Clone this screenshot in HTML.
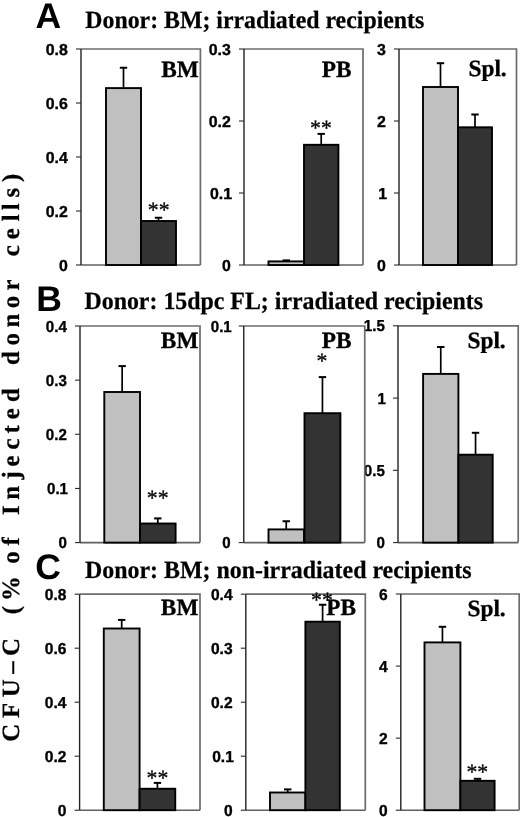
<!DOCTYPE html>
<html lang="en"><head><meta charset="utf-8"><title>CFU-C figure</title>
<style>
html,body{margin:0;padding:0;background:#fff;}
body{width:520px;height:817px;overflow:hidden;}
svg{display:block;filter:grayscale(1);}
text{text-rendering:geometricPrecision;}
.ax{font-family:"Liberation Sans", Arial, Helvetica, sans-serif;font-weight:700;font-size:15.9px;fill:#000;stroke:#000;stroke-width:0.35px;}
.lb{font-family:"Liberation Serif", "Times New Roman", Times, serif;font-weight:700;font-size:23.3px;fill:#000;stroke:#000;stroke-width:0.3px;}
.st{font-family:"Liberation Serif", "Times New Roman", Times, serif;font-weight:400;font-size:21.8px;fill:#000;stroke:#000;stroke-width:0.3px;}
.ti{font-family:"Liberation Serif", "Times New Roman", Times, serif;font-weight:700;font-size:24.8px;fill:#000;stroke:#000;stroke-width:0.25px;}
.pn{font-family:"Liberation Sans", Arial, Helvetica, sans-serif;font-weight:700;font-size:35.6px;fill:#000;}
.yt{font-family:"Liberation Serif", "Times New Roman", Times, serif;font-weight:700;font-size:24.8px;fill:#000;stroke:#000;stroke-width:0.25px;}
</style></head><body>
<svg width="520" height="817" viewBox="0 0 520 817">
<rect width="520" height="817" fill="#fff"/>
<text class="yt" transform="translate(19.1 740.6) rotate(-90)" x="-1.1 22.7 43.4 66.9 84.7 109.4 126.4 139.7 170.6 176.9 195.2 212.5 225.7 240.8 261.1 274.2 291 307.1 321.3 338.5 359.6 375.5 395.1 413 432.4 450 468.4 484.4 501.4 519.4 530.4 543.2 558.7">CFU–C (% of Injected donor cells)</text>
<g><rect x="399" y="49" width="117.5" height="216" fill="#ffffff"/>
<path d="M399 49H516.5V265" fill="none" stroke="#6c6c6c" stroke-width="1.7"/>
<path d="M399 265H516.5" fill="none" stroke="#606060" stroke-width="1.6"/>
<path d="M399 49V265" fill="none" stroke="#222" stroke-width="1.4"/>
<path d="M394 265H399" stroke="#2a2a2a" stroke-width="1.1"/>
<text class="ax" transform="translate(385.8 270.6) scale(1 1)" text-anchor="end">0</text>
<path d="M394 193H399" stroke="#2a2a2a" stroke-width="1.1"/>
<text class="ax" transform="translate(387 198.6) scale(1 1)" text-anchor="end">1</text>
<path d="M394 121H399" stroke="#2a2a2a" stroke-width="1.1"/>
<text class="ax" transform="translate(385.8 126.6) scale(1 1)" text-anchor="end">2</text>
<path d="M394 49H399" stroke="#2a2a2a" stroke-width="1.1"/>
<text class="ax" transform="translate(385.8 54.6) scale(1 1)" text-anchor="end">3</text>
<path d="M440.5 87V63.2" stroke="#000" stroke-width="1.7"/>
<path d="M436.8 63.2H444.2" stroke="#000" stroke-width="2"/>
<path d="M475 127.3V114.5" stroke="#000" stroke-width="1.7"/>
<path d="M471.3 114.5H478.7" stroke="#000" stroke-width="2"/>
<rect x="423" y="87" width="35" height="178" fill="#c0c0c0" stroke="#000" stroke-width="1.9"/>
<rect x="458" y="127.3" width="34" height="137.7" fill="#333333" stroke="#000" stroke-width="1.9"/>
<text class="lb" x="506.7" y="76.4" text-anchor="end">Spl.</text></g>
<g><rect x="244" y="49" width="119" height="216" fill="#ffffff"/>
<path d="M244 49H363V265" fill="none" stroke="#6c6c6c" stroke-width="1.7"/>
<path d="M244 265H363" fill="none" stroke="#606060" stroke-width="1.6"/>
<path d="M244 49V265" fill="none" stroke="#222" stroke-width="1.4"/>
<path d="M239 265H244" stroke="#2a2a2a" stroke-width="1.1"/>
<text class="ax" transform="translate(230.8 270.6) scale(1 1)" text-anchor="end">0</text>
<path d="M239 193H244" stroke="#2a2a2a" stroke-width="1.1"/>
<text class="ax" transform="translate(232 198.6) scale(1 1)" text-anchor="end">0.1</text>
<path d="M239 121H244" stroke="#2a2a2a" stroke-width="1.1"/>
<text class="ax" transform="translate(230.8 126.6) scale(1 1)" text-anchor="end">0.2</text>
<path d="M239 49H244" stroke="#2a2a2a" stroke-width="1.1"/>
<text class="ax" transform="translate(230.8 54.6) scale(1 1)" text-anchor="end">0.3</text>
<path d="M286.25 261.4V260.4" stroke="#000" stroke-width="1.7"/>
<path d="M282.55 260.4H289.95" stroke="#000" stroke-width="2"/>
<path d="M321.2 144.8V133.9" stroke="#000" stroke-width="1.7"/>
<path d="M317.5 133.9H324.9" stroke="#000" stroke-width="2"/>
<rect x="268.5" y="261.4" width="35.5" height="3.6" fill="#c0c0c0" stroke="#000" stroke-width="1.9"/>
<rect x="304" y="144.8" width="34.4" height="120.2" fill="#333333" stroke="#000" stroke-width="1.9"/>
<text class="st" x="321" y="135.3" text-anchor="middle">**</text>
<text class="lb" x="351.5" y="76.9" text-anchor="end">PB</text></g>
<g><rect x="81" y="49" width="119.4" height="216" fill="#ffffff"/>
<path d="M81 49H200.4V265" fill="none" stroke="#6c6c6c" stroke-width="1.7"/>
<path d="M81 265H200.4" fill="none" stroke="#606060" stroke-width="1.6"/>
<path d="M81 49V265" fill="none" stroke="#222" stroke-width="1.4"/>
<path d="M76 265H81" stroke="#2a2a2a" stroke-width="1.1"/>
<text class="ax" transform="translate(67.8 270.6) scale(1 1)" text-anchor="end">0</text>
<path d="M76 211H81" stroke="#2a2a2a" stroke-width="1.1"/>
<text class="ax" transform="translate(67.8 216.6) scale(1 1)" text-anchor="end">0.2</text>
<path d="M76 157H81" stroke="#2a2a2a" stroke-width="1.1"/>
<text class="ax" transform="translate(67.8 162.6) scale(1 1)" text-anchor="end">0.4</text>
<path d="M76 103H81" stroke="#2a2a2a" stroke-width="1.1"/>
<text class="ax" transform="translate(67.8 108.6) scale(1 1)" text-anchor="end">0.6</text>
<path d="M76 49H81" stroke="#2a2a2a" stroke-width="1.1"/>
<text class="ax" transform="translate(67.8 54.6) scale(1 1)" text-anchor="end">0.8</text>
<path d="M123.5 88.1V67.75" stroke="#000" stroke-width="1.7"/>
<path d="M119.8 67.75H127.2" stroke="#000" stroke-width="2"/>
<path d="M158.5 221V217.75" stroke="#000" stroke-width="1.7"/>
<path d="M154.8 217.75H162.2" stroke="#000" stroke-width="2"/>
<rect x="106" y="88.1" width="35" height="176.9" fill="#c0c0c0" stroke="#000" stroke-width="1.9"/>
<rect x="141" y="221" width="35" height="44" fill="#333333" stroke="#000" stroke-width="1.9"/>
<text class="st" x="158.75" y="216.6" text-anchor="middle">**</text>
<text class="lb" x="198.7" y="76.7" text-anchor="end">BM</text></g>
<g><rect x="398" y="325.8" width="120.2" height="216.8" fill="#ffffff"/>
<path d="M398 325.8H518.2V542.6" fill="none" stroke="#6c6c6c" stroke-width="1.7"/>
<path d="M398 542.6H518.2" fill="none" stroke="#606060" stroke-width="1.6"/>
<path d="M398 325.8V542.6" fill="none" stroke="#222" stroke-width="1.4"/>
<path d="M393 542.6H398" stroke="#2a2a2a" stroke-width="1.1"/>
<text class="ax" transform="translate(384.8 548.2) scale(0.95 1)" text-anchor="end">0</text>
<path d="M393 470.33H398" stroke="#2a2a2a" stroke-width="1.1"/>
<text class="ax" transform="translate(384.8 475.93) scale(0.95 1)" text-anchor="end">0.5</text>
<path d="M393 398.07H398" stroke="#2a2a2a" stroke-width="1.1"/>
<text class="ax" transform="translate(386 403.67) scale(0.95 1)" text-anchor="end">1</text>
<path d="M393 325.8H398" stroke="#2a2a2a" stroke-width="1.1"/>
<text class="ax" transform="translate(384.8 331.4) scale(0.95 1)" text-anchor="end">1.5</text>
<path d="M440.75 373.9V347" stroke="#000" stroke-width="1.7"/>
<path d="M437.05 347H444.45" stroke="#000" stroke-width="2"/>
<path d="M475.55 454.7V432.8" stroke="#000" stroke-width="1.7"/>
<path d="M471.85 432.8H479.25" stroke="#000" stroke-width="2"/>
<rect x="423.1" y="373.9" width="35.3" height="168.7" fill="#c0c0c0" stroke="#000" stroke-width="1.9"/>
<rect x="458.4" y="454.7" width="34.3" height="87.9" fill="#333333" stroke="#000" stroke-width="1.9"/>
<text class="lb" x="505.7" y="347.7" text-anchor="end">Spl.</text></g>
<g><rect x="243.75" y="326" width="121" height="216.6" fill="#ffffff"/>
<path d="M243.75 326H364.75V542.6" fill="none" stroke="#6c6c6c" stroke-width="1.7"/>
<path d="M243.75 542.6H364.75" fill="none" stroke="#606060" stroke-width="1.6"/>
<path d="M243.75 326V542.6" fill="none" stroke="#222" stroke-width="1.4"/>
<path d="M238.75 542.6H243.75" stroke="#2a2a2a" stroke-width="1.1"/>
<text class="ax" transform="translate(230.55 548.2) scale(0.95 1)" text-anchor="end">0</text>
<path d="M238.75 326H243.75" stroke="#2a2a2a" stroke-width="1.1"/>
<text class="ax" transform="translate(231.75 331.6) scale(0.95 1)" text-anchor="end">0.1</text>
<path d="M286.25 529.4V521.25" stroke="#000" stroke-width="1.7"/>
<path d="M282.55 521.25H289.95" stroke="#000" stroke-width="2"/>
<path d="M322.45 413.2V377.1" stroke="#000" stroke-width="1.7"/>
<path d="M318.75 377.1H326.15" stroke="#000" stroke-width="2"/>
<rect x="268.5" y="529.4" width="35.5" height="13.2" fill="#c0c0c0" stroke="#000" stroke-width="1.9"/>
<rect x="304.5" y="413.2" width="35.9" height="129.4" fill="#333333" stroke="#000" stroke-width="1.9"/>
<text class="st" x="322" y="367.7" text-anchor="middle">*</text>
<text class="lb" x="351.5" y="347.5" text-anchor="end">PB</text></g>
<g><rect x="80" y="326" width="120" height="216.6" fill="#ffffff"/>
<path d="M80 326H200V542.6" fill="none" stroke="#6c6c6c" stroke-width="1.7"/>
<path d="M80 542.6H200" fill="none" stroke="#606060" stroke-width="1.6"/>
<path d="M80 326V542.6" fill="none" stroke="#222" stroke-width="1.4"/>
<path d="M75 542.6H80" stroke="#2a2a2a" stroke-width="1.1"/>
<text class="ax" transform="translate(66.8 548.2) scale(0.95 1)" text-anchor="end">0</text>
<path d="M75 488.45H80" stroke="#2a2a2a" stroke-width="1.1"/>
<text class="ax" transform="translate(68 494.05) scale(0.95 1)" text-anchor="end">0.1</text>
<path d="M75 434.3H80" stroke="#2a2a2a" stroke-width="1.1"/>
<text class="ax" transform="translate(66.8 439.9) scale(0.95 1)" text-anchor="end">0.2</text>
<path d="M75 380.15H80" stroke="#2a2a2a" stroke-width="1.1"/>
<text class="ax" transform="translate(66.8 385.75) scale(0.95 1)" text-anchor="end">0.3</text>
<path d="M75 326H80" stroke="#2a2a2a" stroke-width="1.1"/>
<text class="ax" transform="translate(66.8 331.6) scale(0.95 1)" text-anchor="end">0.4</text>
<path d="M122.15 392V366.1" stroke="#000" stroke-width="1.7"/>
<path d="M118.45 366.1H125.85" stroke="#000" stroke-width="2"/>
<path d="M157.8 523.5V518.4" stroke="#000" stroke-width="1.7"/>
<path d="M154.1 518.4H161.5" stroke="#000" stroke-width="2"/>
<rect x="104.3" y="392" width="35.7" height="150.6" fill="#c0c0c0" stroke="#000" stroke-width="1.9"/>
<rect x="140" y="523.5" width="35.6" height="19.1" fill="#333333" stroke="#000" stroke-width="1.9"/>
<text class="st" x="157.75" y="505.1" text-anchor="middle">**</text>
<text class="lb" x="198.4" y="347.5" text-anchor="end">BM</text></g>
<g><rect x="400.8" y="594" width="118.4" height="216.2" fill="#ffffff"/>
<path d="M400.8 594H519.2V810.2" fill="none" stroke="#6c6c6c" stroke-width="1.7"/>
<path d="M400.8 810.2H519.2" fill="none" stroke="#606060" stroke-width="1.6"/>
<path d="M400.8 594V810.2" fill="none" stroke="#222" stroke-width="1.4"/>
<path d="M395.8 810.2H400.8" stroke="#2a2a2a" stroke-width="1.1"/>
<text class="ax" transform="translate(387.6 815.8) scale(0.98 1)" text-anchor="end">0</text>
<path d="M395.8 738.13H400.8" stroke="#2a2a2a" stroke-width="1.1"/>
<text class="ax" transform="translate(387.6 743.73) scale(0.98 1)" text-anchor="end">2</text>
<path d="M395.8 666.07H400.8" stroke="#2a2a2a" stroke-width="1.1"/>
<text class="ax" transform="translate(387.6 671.67) scale(0.98 1)" text-anchor="end">4</text>
<path d="M395.8 594H400.8" stroke="#2a2a2a" stroke-width="1.1"/>
<text class="ax" transform="translate(387.6 599.6) scale(0.98 1)" text-anchor="end">6</text>
<path d="M442.45 642.4V626.8" stroke="#000" stroke-width="1.7"/>
<path d="M438.75 626.8H446.15" stroke="#000" stroke-width="2"/>
<path d="M477.5 780.8V778.8" stroke="#000" stroke-width="1.7"/>
<path d="M473.8 778.8H481.2" stroke="#000" stroke-width="2"/>
<rect x="424.5" y="642.4" width="35.9" height="167.8" fill="#c0c0c0" stroke="#000" stroke-width="1.9"/>
<rect x="460.4" y="780.8" width="34.2" height="29.4" fill="#333333" stroke="#000" stroke-width="1.9"/>
<text class="st" x="477.3" y="779.2" text-anchor="middle">**</text>
<text class="lb" x="505.7" y="615.5" text-anchor="end">Spl.</text></g>
<g><rect x="245.8" y="594.2" width="119.5" height="216" fill="#ffffff"/>
<path d="M245.8 594.2H365.3V810.2" fill="none" stroke="#6c6c6c" stroke-width="1.7"/>
<path d="M245.8 810.2H365.3" fill="none" stroke="#606060" stroke-width="1.6"/>
<path d="M245.8 594.2V810.2" fill="none" stroke="#222" stroke-width="1.4"/>
<path d="M240.8 810.2H245.8" stroke="#2a2a2a" stroke-width="1.1"/>
<text class="ax" transform="translate(232.6 815.8) scale(0.98 1)" text-anchor="end">0</text>
<path d="M240.8 756.2H245.8" stroke="#2a2a2a" stroke-width="1.1"/>
<text class="ax" transform="translate(233.8 761.8) scale(0.98 1)" text-anchor="end">0.1</text>
<path d="M240.8 702.2H245.8" stroke="#2a2a2a" stroke-width="1.1"/>
<text class="ax" transform="translate(232.6 707.8) scale(0.98 1)" text-anchor="end">0.2</text>
<path d="M240.8 648.2H245.8" stroke="#2a2a2a" stroke-width="1.1"/>
<text class="ax" transform="translate(232.6 653.8) scale(0.98 1)" text-anchor="end">0.3</text>
<path d="M240.8 594.2H245.8" stroke="#2a2a2a" stroke-width="1.1"/>
<text class="ax" transform="translate(232.6 599.8) scale(0.98 1)" text-anchor="end">0.4</text>
<path d="M287.7 792.5V789.4" stroke="#000" stroke-width="1.7"/>
<path d="M284 789.4H291.4" stroke="#000" stroke-width="2"/>
<path d="M322.6 621.7V604.75" stroke="#000" stroke-width="1.7"/>
<path d="M318.9 604.75H326.3" stroke="#000" stroke-width="2"/>
<rect x="270" y="792.5" width="35.4" height="17.7" fill="#c0c0c0" stroke="#000" stroke-width="1.9"/>
<rect x="305.4" y="621.7" width="34.4" height="188.5" fill="#333333" stroke="#000" stroke-width="1.9"/>
<text class="st" x="321.9" y="607.4" text-anchor="middle">**</text>
<text class="lb" x="356" y="614.6" text-anchor="end">PB</text></g>
<g><rect x="79.6" y="594.2" width="120.4" height="216" fill="#ffffff"/>
<path d="M79.6 594.2H200V810.2" fill="none" stroke="#6c6c6c" stroke-width="1.7"/>
<path d="M79.6 810.2H200" fill="none" stroke="#606060" stroke-width="1.6"/>
<path d="M79.6 594.2V810.2" fill="none" stroke="#222" stroke-width="1.4"/>
<path d="M74.6 810.2H79.6" stroke="#2a2a2a" stroke-width="1.1"/>
<text class="ax" transform="translate(66.4 815.8) scale(0.98 1)" text-anchor="end">0</text>
<path d="M74.6 756.2H79.6" stroke="#2a2a2a" stroke-width="1.1"/>
<text class="ax" transform="translate(66.4 761.8) scale(0.98 1)" text-anchor="end">0.2</text>
<path d="M74.6 702.2H79.6" stroke="#2a2a2a" stroke-width="1.1"/>
<text class="ax" transform="translate(66.4 707.8) scale(0.98 1)" text-anchor="end">0.4</text>
<path d="M74.6 648.2H79.6" stroke="#2a2a2a" stroke-width="1.1"/>
<text class="ax" transform="translate(66.4 653.8) scale(0.98 1)" text-anchor="end">0.6</text>
<path d="M74.6 594.2H79.6" stroke="#2a2a2a" stroke-width="1.1"/>
<text class="ax" transform="translate(66.4 599.8) scale(0.98 1)" text-anchor="end">0.8</text>
<path d="M121.7 628.5V619.9" stroke="#000" stroke-width="1.7"/>
<path d="M118 619.9H125.4" stroke="#000" stroke-width="2"/>
<path d="M157.43 788.75V782.9" stroke="#000" stroke-width="1.7"/>
<path d="M153.73 782.9H161.12" stroke="#000" stroke-width="2"/>
<rect x="103.8" y="628.5" width="35.8" height="181.7" fill="#c0c0c0" stroke="#000" stroke-width="1.9"/>
<rect x="139.6" y="788.75" width="35.65" height="21.45" fill="#333333" stroke="#000" stroke-width="1.9"/>
<text class="st" x="157.4" y="785.1" text-anchor="middle">**</text>
<text class="lb" x="198.4" y="615.3" text-anchor="end">BM</text></g>
<text class="pn" transform="translate(35.4 27.75) scale(1.0 1)">A</text>
<text class="ti" x="85.3" y="27.5" textLength="339" lengthAdjust="spacingAndGlyphs">Donor: BM; irradiated recipients</text>
<text class="pn" transform="translate(36.2 310.6) scale(1.0 1)">B</text>
<text class="ti" x="84.5" y="309.1" textLength="398.6" lengthAdjust="spacingAndGlyphs">Donor: 15dpc FL; irradiated recipients</text>
<text class="pn" transform="translate(35.2 579.2) scale(1.0 1)">C</text>
<text class="ti" x="85" y="578.3" textLength="386.5" lengthAdjust="spacingAndGlyphs">Donor: BM; non-irradiated recipients</text>
</svg>
</body></html>
